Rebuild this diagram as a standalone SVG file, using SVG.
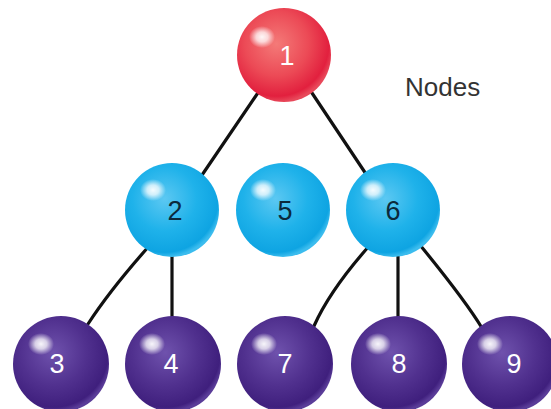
<svg xmlns="http://www.w3.org/2000/svg" width="551" height="409" viewBox="0 0 551 409">
  <defs>
    <radialGradient id="gRed" cx="0.42" cy="0.38" r="0.62">
      <stop offset="0" stop-color="#f47a78"/>
      <stop offset="0.55" stop-color="#ec4a56"/>
      <stop offset="0.9" stop-color="#e2203e"/>
      <stop offset="1" stop-color="#e8485a"/>
    </radialGradient>
    <radialGradient id="gBlue" cx="0.42" cy="0.38" r="0.62">
      <stop offset="0" stop-color="#5cc8f2"/>
      <stop offset="0.55" stop-color="#1fb2ea"/>
      <stop offset="0.92" stop-color="#0ea4e2"/>
      <stop offset="1" stop-color="#3bbcee"/>
    </radialGradient>
    <radialGradient id="gPurple" cx="0.42" cy="0.38" r="0.62">
      <stop offset="0" stop-color="#6f52ad"/>
      <stop offset="0.55" stop-color="#51318f"/>
      <stop offset="0.92" stop-color="#3f1f7d"/>
      <stop offset="1" stop-color="#5a3c98"/>
    </radialGradient>
    <radialGradient id="gShine" cx="0.5" cy="0.5" r="0.5">
      <stop offset="0" stop-color="#ffffff" stop-opacity="0.95"/>
      <stop offset="0.45" stop-color="#ffffff" stop-opacity="0.75"/>
      <stop offset="1" stop-color="#ffffff" stop-opacity="0"/>
    </radialGradient>
  </defs>
  <style>
    .edge { fill: none; stroke: #111111; stroke-width: 3.2; stroke-linecap: round; }
    .num { font-family: "Liberation Sans", Arial, sans-serif; font-size: 27px; text-anchor: middle; }
    .light { fill: #ffffff; }
    .dark { fill: #0b2a3c; }
    .caption { font-family: "Liberation Sans", Arial, sans-serif; font-size: 26px; fill: #333333; }
  </style>
  <rect width="551" height="409" fill="#ffffff"/>

  <!-- connectors, drawn beneath the spheres -->
  <g id="connectors">
    <path class="edge" d="M268 78 L200 178"/>
    <path class="edge" d="M302 78 L366 174"/>
    <path class="edge" d="M150 245 Q110 290 88 324"/>
    <path class="edge" d="M172 245 L172 324"/>
    <path class="edge" d="M370 245 Q330 290 314 326"/>
    <path class="edge" d="M398 245 L398 324"/>
    <path class="edge" d="M420 245 Q465 300 482 328"/>
  </g>

  <text class="caption" x="405" y="96">Nodes</text>

  <g id="node1">
    <circle cx="284" cy="55" r="47" fill="url(#gRed)"/>
    <ellipse cx="262" cy="37" rx="13" ry="11" fill="url(#gShine)"/>
    <text class="num light" x="287" y="65">1</text>
  </g>

  <g id="node2">
    <circle cx="172" cy="210" r="47" fill="url(#gBlue)"/>
    <ellipse cx="153" cy="190" rx="13" ry="11" fill="url(#gShine)"/>
    <text class="num dark" x="175" y="220">2</text>
  </g>
  <g id="node5">
    <circle cx="283" cy="210" r="47" fill="url(#gBlue)"/>
    <ellipse cx="263" cy="190" rx="13" ry="11" fill="url(#gShine)"/>
    <text class="num dark" x="285" y="220">5</text>
  </g>
  <g id="node6">
    <circle cx="393" cy="210" r="47" fill="url(#gBlue)"/>
    <ellipse cx="373" cy="190" rx="13" ry="11" fill="url(#gShine)"/>
    <text class="num dark" x="393" y="220">6</text>
  </g>

  <g id="node3">
    <circle cx="61" cy="364" r="48" fill="url(#gPurple)"/>
    <ellipse cx="41" cy="344" rx="13" ry="11" fill="url(#gShine)"/>
    <text class="num light" x="57" y="373">3</text>
  </g>
  <g id="node4">
    <circle cx="173" cy="364" r="48" fill="url(#gPurple)"/>
    <ellipse cx="152" cy="344" rx="13" ry="11" fill="url(#gShine)"/>
    <text class="num light" x="171" y="373">4</text>
  </g>
  <g id="node7">
    <circle cx="285" cy="364" r="48" fill="url(#gPurple)"/>
    <ellipse cx="264" cy="344" rx="13" ry="11" fill="url(#gShine)"/>
    <text class="num light" x="285" y="373">7</text>
  </g>
  <g id="node8">
    <circle cx="399" cy="364" r="48" fill="url(#gPurple)"/>
    <ellipse cx="378" cy="344" rx="13" ry="11" fill="url(#gShine)"/>
    <text class="num light" x="399" y="373">8</text>
  </g>
  <g id="node9">
    <circle cx="510" cy="364" r="48" fill="url(#gPurple)"/>
    <ellipse cx="490" cy="344" rx="13" ry="11" fill="url(#gShine)"/>
    <text class="num light" x="514" y="373">9</text>
  </g>
</svg>
